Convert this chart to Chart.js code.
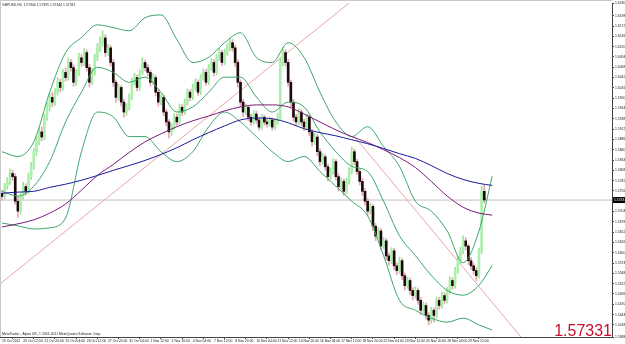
<!DOCTYPE html>
<html>
<head>
<meta charset="utf-8">
<script src="https://cdn.jsdelivr.net/npm/chart.js@4.4.0/dist/chart.umd.min.js"></script>
<style>
html, body { margin: 0; padding: 0; background: #fff; overflow: hidden; }
</style>
</head>
<body>
<canvas id="chart" width="625" height="344"></canvas>
<script>
// GBPUSD H4, 19 Oct 2011 - 30 Nov 2011 (bar index 0..182)
const opens = [1.5750,1.5742,1.5767,1.5780,1.5800,1.5792,1.5730,1.5705,1.5742,1.5767,
  1.5755,1.5792,1.5817,1.5855,1.5880,1.5905,1.5892,1.5942,1.5967,1.5992,
  1.5980,1.6005,1.6030,1.6017,1.6055,1.6042,1.6080,1.6067,1.6030,1.6055,
  1.6092,1.6080,1.6105,1.6067,1.6030,1.6055,1.6092,1.6117,1.6130,1.6142,
  1.6105,1.6117,1.6080,1.6030,1.5992,1.6017,1.5980,1.5955,1.5967,1.5992,
  1.6030,1.6042,1.6017,1.6055,1.6080,1.6067,1.6055,1.6030,1.6042,1.6005,
  1.5980,1.5992,1.5955,1.5930,1.5905,1.5917,1.5942,1.5930,1.5967,1.5955,
  1.5980,1.6005,1.5992,1.6017,1.6030,1.6005,1.6042,1.6055,1.6030,1.6067,
  1.6080,1.6055,1.6092,1.6105,1.6080,1.6105,1.6117,1.6130,1.6117,1.6080,
  1.6030,1.5980,1.5955,1.5967,1.5942,1.5930,1.5950,1.5935,1.5917,1.5942,
  1.5930,1.5925,1.5935,1.5917,1.5930,1.5942,1.6080,1.6105,1.6080,1.6030,
  1.5980,1.5942,1.5930,1.5955,1.5930,1.5917,1.5942,1.5905,1.5880,1.5892,
  1.5855,1.5830,1.5842,1.5817,1.5792,1.5805,1.5830,1.5792,1.5767,1.5780,
  1.5755,1.5780,1.5805,1.5855,1.5830,1.5805,1.5780,1.5755,1.5730,1.5705,
  1.5717,1.5667,1.5642,1.5655,1.5617,1.5630,1.5592,1.5580,1.5605,1.5567,
  1.5555,1.5580,1.5542,1.5517,1.5530,1.5505,1.5492,1.5505,1.5480,1.5455,
  1.5467,1.5442,1.5430,1.5455,1.5442,1.5480,1.5467,1.5492,1.5480,1.5505,
  1.5530,1.5517,1.5555,1.5580,1.5605,1.5630,1.5617,1.5580,1.5567,1.5555,
  1.5542,1.5605,1.5755];
const highs = [1.5758,1.5775,1.5790,1.5812,1.5808,1.5799,1.5741,1.5750,1.5778,1.5774,
  1.5801,1.5828,1.5863,1.5892,1.5915,1.5918,1.5950,1.5980,1.6002,1.6004,
  1.6014,1.6042,1.6038,1.6063,1.6066,1.6091,1.6088,1.6074,1.6062,1.6104,
  1.6100,1.6115,1.6112,1.6075,1.6066,1.6101,1.6128,1.6145,1.6160,1.6150,
  1.6126,1.6123,1.6088,1.6036,1.6025,1.6022,1.5988,1.5976,1.6001,1.6040,
  1.6053,1.6048,1.6062,1.6092,1.6086,1.6075,1.6061,1.6052,1.6048,1.6012,
  1.6001,1.5998,1.5962,1.5936,1.5926,1.5951,1.5950,1.5975,1.5974,1.5988,
  1.6013,1.6011,1.6026,1.6039,1.6036,1.6050,1.6064,1.6062,1.6075,1.6090,
  1.6087,1.6100,1.6116,1.6111,1.6114,1.6127,1.6142,1.6138,1.6124,1.6087,
  1.6036,1.5988,1.5976,1.5972,1.5950,1.5958,1.5957,1.5941,1.5949,1.5947,
  1.5937,1.5943,1.5940,1.5938,1.5952,1.6092,1.6118,1.6112,1.6088,1.6036,
  1.5987,1.5949,1.5963,1.5961,1.5937,1.5950,1.5948,1.5912,1.5901,1.5898,
  1.5862,1.5851,1.5848,1.5824,1.5814,1.5838,1.5836,1.5799,1.5789,1.5786,
  1.5788,1.5814,1.5866,1.5862,1.5836,1.5811,1.5787,1.5762,1.5737,1.5726,
  1.5722,1.5674,1.5664,1.5661,1.5639,1.5636,1.5599,1.5613,1.5611,1.5574,
  1.5589,1.5586,1.5549,1.5539,1.5536,1.5512,1.5514,1.5511,1.5487,1.5476,
  1.5473,1.5449,1.5463,1.5461,1.5488,1.5487,1.5500,1.5499,1.5513,1.5540,
  1.5537,1.5563,1.5591,1.5614,1.5643,1.5638,1.5622,1.5588,1.5574,1.5562,
  1.5612,1.5768,1.5773];
const lows = [1.5733,1.5736,1.5760,1.5772,1.5783,1.5722,1.5690,1.5698,1.5735,1.5745,
  1.5748,1.5785,1.5810,1.5846,1.5872,1.5883,1.5885,1.5934,1.5958,1.5968,
  1.5972,1.5998,1.6006,1.6010,1.6033,1.6035,1.6058,1.6020,1.6022,1.6047,
  1.6070,1.6072,1.6058,1.6018,1.6024,1.6048,1.6085,1.6108,1.6122,1.6095,
  1.6097,1.6071,1.6020,1.5980,1.5985,1.5970,1.5942,1.5947,1.5960,1.5986,
  1.6023,1.6008,1.6010,1.6049,1.6059,1.6046,1.6021,1.6024,1.5996,1.5970,
  1.5973,1.5946,1.5920,1.5890,1.5896,1.5910,1.5921,1.5924,1.5946,1.5949,
  1.5972,1.5984,1.5986,1.6010,1.5997,1.5999,1.6035,1.6022,1.6024,1.6060,
  1.6046,1.6049,1.6085,1.6072,1.6074,1.6098,1.6110,1.6108,1.6070,1.6018,
  1.5968,1.5943,1.5948,1.5933,1.5921,1.5924,1.5927,1.5909,1.5911,1.5922,
  1.5917,1.5919,1.5909,1.5911,1.5924,1.5936,1.6072,1.6071,1.6020,1.5968,
  1.5932,1.5920,1.5923,1.5921,1.5908,1.5911,1.5895,1.5869,1.5873,1.5845,
  1.5820,1.5823,1.5808,1.5781,1.5785,1.5798,1.5783,1.5756,1.5760,1.5745,
  1.5749,1.5773,1.5799,1.5822,1.5797,1.5771,1.5745,1.5720,1.5694,1.5698,
  1.5656,1.5631,1.5635,1.5607,1.5610,1.5582,1.5569,1.5573,1.5557,1.5545,
  1.5548,1.5532,1.5506,1.5510,1.5495,1.5481,1.5485,1.5470,1.5444,1.5448,
  1.5432,1.5418,1.5422,1.5425,1.5435,1.5458,1.5460,1.5471,1.5473,1.5498,
  1.5508,1.5510,1.5548,1.5572,1.5598,1.5607,1.5570,1.5558,1.5545,1.5530,
  1.5536,1.5598,1.5726];
const closes = [1.5742,1.5767,1.5780,1.5800,1.5792,1.5730,1.5705,1.5742,1.5767,1.5755,
  1.5792,1.5817,1.5855,1.5880,1.5905,1.5892,1.5942,1.5967,1.5992,1.5980,
  1.6005,1.6030,1.6017,1.6055,1.6042,1.6080,1.6067,1.6030,1.6055,1.6092,
  1.6080,1.6105,1.6067,1.6030,1.6055,1.6092,1.6117,1.6130,1.6142,1.6105,
  1.6117,1.6080,1.6030,1.5992,1.6017,1.5980,1.5955,1.5967,1.5992,1.6030,
  1.6042,1.6017,1.6055,1.6080,1.6067,1.6055,1.6030,1.6042,1.6005,1.5980,
  1.5992,1.5955,1.5930,1.5905,1.5917,1.5942,1.5930,1.5967,1.5955,1.5980,
  1.6005,1.5992,1.6017,1.6030,1.6005,1.6042,1.6055,1.6030,1.6067,1.6080,
  1.6055,1.6092,1.6105,1.6080,1.6105,1.6117,1.6130,1.6117,1.6080,1.6030,
  1.5980,1.5955,1.5967,1.5942,1.5930,1.5950,1.5935,1.5917,1.5942,1.5930,
  1.5925,1.5935,1.5917,1.5930,1.5942,1.6080,1.6105,1.6080,1.6030,1.5980,
  1.5942,1.5930,1.5955,1.5930,1.5917,1.5942,1.5905,1.5880,1.5892,1.5855,
  1.5830,1.5842,1.5817,1.5792,1.5805,1.5830,1.5792,1.5767,1.5780,1.5755,
  1.5780,1.5805,1.5855,1.5830,1.5805,1.5780,1.5755,1.5730,1.5705,1.5717,
  1.5667,1.5642,1.5655,1.5617,1.5630,1.5592,1.5580,1.5605,1.5567,1.5555,
  1.5580,1.5542,1.5517,1.5530,1.5505,1.5492,1.5505,1.5480,1.5455,1.5467,
  1.5442,1.5430,1.5455,1.5442,1.5480,1.5467,1.5492,1.5480,1.5505,1.5530,
  1.5517,1.5555,1.5580,1.5605,1.5630,1.5617,1.5580,1.5567,1.5555,1.5542,
  1.5605,1.5755,1.5733];

// indicator samples (every 6 bars, last one is the shifted end)
const lineBars = [0,6,12,18,24,30,36,42,48,54,60,66,72,78,84,90,96,102,108,114,120,126,132,138,144,150,156,162,168,174,180,185];
const maSlow = [1.5750,1.5753,1.5755,1.5765,1.5773,1.5783,1.5795,1.5808,1.5820,1.5833,1.5848,1.5865,1.5885,1.5903,1.5920,1.5935,
  1.5940,1.5938,1.5928,1.5913,1.5903,1.5895,1.5885,1.5875,1.5863,1.5850,1.5838,1.5820,1.5800,1.5785,1.5775,1.5770];
const maFast = [1.5665,1.5673,1.5683,1.5700,1.5723,1.5758,1.5795,1.5823,1.5853,1.5880,1.5900,1.5918,1.5933,1.5945,1.5958,1.5968,
  1.5973,1.5973,1.5968,1.5950,1.5930,1.5910,1.5893,1.5878,1.5860,1.5840,1.5815,1.5780,1.5743,1.5715,1.5700,1.5695];
const bandUpper = [1.5855,1.5843,1.5880,1.6005,1.6105,1.6143,1.6175,1.6168,1.6160,1.6193,1.6200,1.6138,1.6080,1.6093,1.6130,1.6155,
  1.6093,1.6080,1.6130,1.6093,1.6005,1.5930,1.5893,1.5918,1.5868,1.5818,1.5730,1.5705,1.5655,1.5575,1.5655,1.5793];
const bandMiddle = [1.5755,1.5743,1.5768,1.5830,1.5930,1.6005,1.6068,1.6055,1.6030,1.6043,1.6005,1.5955,1.5968,1.6005,1.6043,1.6043,
  1.5993,1.5955,1.5980,1.5968,1.5905,1.5855,1.5818,1.5805,1.5730,1.5643,1.5593,1.5543,1.5505,1.5493,1.5518,1.5568];
const bandLower = [1.5675,1.5668,1.5660,1.5663,1.5688,1.5855,1.5955,1.5943,1.5893,1.5893,1.5855,1.5830,1.5855,1.5918,1.5955,1.5930,
  1.5893,1.5855,1.5830,1.5843,1.5805,1.5768,1.5730,1.5693,1.5593,1.5480,1.5455,1.5435,1.5425,1.5435,1.5418,1.5405];

// hand drawn trend lines: [bar, price] pairs
const trendUp = [[-1, 1.5520], [131, 1.6230]];
const trendDown = [[133, 1.5893], [198, 1.5370]];

// time axis labels, one every 8 bars
const timeLabels = ['19 Oct 2011','20 Oct 12:00','21 Oct 20:00','25 Oct 04:00','26 Oct 12:00','27 Oct 20:00',
  '31 Oct 04:00','1 Nov 12:00','2 Nov 20:00','4 Nov 04:00','7 Nov 12:00','8 Nov 20:00','10 Nov 04:00',
  '11 Nov 12:00','14 Nov 20:00','16 Nov 04:00','17 Nov 12:00','18 Nov 20:00','22 Nov 04:00','23 Nov 12:00',
  '24 Nov 20:00','28 Nov 04:00','29 Nov 12:00'];

const title = 'GBPUSD,H4  1.57344 1.57395 1.57344 1.57331';
const footer = 'MetaTrader - Alpari UK, \u00a9 2001-2011 MetaQuotes Software Corp.';
const bigPrice = '1.57331';

var wickData = [], bodyData = [], wickColors = [], bodyColors = [];
for (var i = 0; i < closes.length; i++) {
  var up = closes[i] >= opens[i];
  wickData.push({x: i, y: [lows[i], highs[i]]});
  bodyData.push({x: i, y: [opens[i], closes[i]]});
  wickColors.push(up ? '#9ae59a' : '#e7a3b3');
  bodyColors.push(up ? '#aeefae' : '#1a0a0a');
}

function pts(xs, ys) {
  var out = [];
  for (var i = 0; i < xs.length; i++) out.push({x: xs[i], y: ys[i]});
  return out;
}
function pairs(p) { return p.map(function(a) { return {x: a[0], y: a[1]}; }); }

var lastPrice = closes[closes.length - 1];

var lineCommon = {type: 'line', pointRadius: 0, borderWidth: 1, fill: false, cubicInterpolationMode: 'monotone'};

// text overlays and price box
var overlay = {
  id: 'overlay',
  afterDraw: function(chart) {
    var ctx = chart.ctx, a = chart.chartArea, ys = chart.scales.y;
    ctx.save();
    // frame
    ctx.strokeStyle = '#c8c8c8';
    ctx.lineWidth = 1;
    ctx.beginPath();
    ctx.moveTo(0.5, a.bottom); ctx.lineTo(0.5, 0.5); ctx.lineTo(a.right, 0.5);
    ctx.stroke();
    ctx.fillStyle = '#222';
    ctx.font = '3.4px Arial';
    ctx.textBaseline = 'middle';
    ctx.fillText(title, 2, 5);
    ctx.fillText(footer, 2, a.bottom - 3);
    // current price box
    var py = ys.getPixelForValue(lastPrice);
    ctx.fillStyle = '#000';
    ctx.fillRect(a.right + 1, py - 3, 14, 6);
    ctx.fillStyle = '#fff';
    ctx.fillText('1.5733', a.right + 2, py);
    // big price
    ctx.fillStyle = '#c8102e';
    ctx.font = '16px Arial';
    ctx.textAlign = 'right';
    ctx.textBaseline = 'alphabetic';
    ctx.fillText(bigPrice, a.right, a.bottom - 1);
    ctx.restore();
  }
};

new Chart(document.getElementById('chart'), {
  data: {
    datasets: [
      Object.assign({}, lineCommon, {data: [{x: -1, y: lastPrice}, {x: 231, y: lastPrice}], borderColor: '#c0c0c0', order: 9, cubicInterpolationMode: 'default'}),
      Object.assign({}, lineCommon, {data: pairs(trendUp), borderColor: '#e8a7a7', order: 8, cubicInterpolationMode: 'default'}),
      Object.assign({}, lineCommon, {data: pairs(trendDown), borderColor: '#e8a7a7', order: 8, cubicInterpolationMode: 'default'}),
      {type: 'bar', data: wickData, backgroundColor: wickColors, barThickness: 1, grouped: false, order: 6},
      {type: 'bar', data: bodyData, backgroundColor: bodyColors, barThickness: 2, grouped: false, minBarLength: 1, order: 5},
      Object.assign({}, lineCommon, {data: pts(lineBars, bandUpper), borderColor: '#3aa56a', order: 3}),
      Object.assign({}, lineCommon, {data: pts(lineBars, bandMiddle), borderColor: '#3aa56a', order: 3}),
      Object.assign({}, lineCommon, {data: pts(lineBars, bandLower), borderColor: '#3aa56a', order: 3}),
      Object.assign({}, lineCommon, {data: pts(lineBars, maFast), borderColor: '#7a1a7a', order: 2}),
      Object.assign({}, lineCommon, {data: pts(lineBars, maSlow), borderColor: '#1a1a9a', order: 1})
    ]
  },
  options: {
    responsive: false,
    animation: false,
    events: [],
    layout: {padding: 0},
    plugins: {legend: {display: false}, tooltip: {enabled: false}},
    scales: {
      x: {
        type: 'linear', min: -0.75, max: 230.2, offset: false,
        grid: {drawOnChartArea: false, tickLength: 2, color: '#444'},
        border: {color: '#444'},
        afterBuildTicks: function(s) { s.ticks = timeLabels.map(function(t, k) { return {value: k * 8}; }); },
        afterFit: function(s) { s.height = 7; },
        ticks: {
          autoSkip: false, maxRotation: 0, align: 'start', padding: 0,
          font: {size: 3.4, family: 'Arial'}, color: '#222',
          callback: function(v) { return timeLabels[Math.round(v / 8)]; }
        }
      },
      y: {
        type: 'linear', position: 'right', min: 1.53875, max: 1.6230,
        grid: {drawOnChartArea: false, tickLength: 2, color: '#444'},
        border: {color: '#444'},
        afterFit: function(s) { s.width = 13; },
        ticks: {
          stepSize: 0.0026, padding: 1,
          font: {size: 3.4, family: 'Arial'}, color: '#222',
          callback: function(v) { return v.toFixed(4); }
        }
      }
    }
  },
  plugins: [overlay]
});
</script>
</body>
</html>
